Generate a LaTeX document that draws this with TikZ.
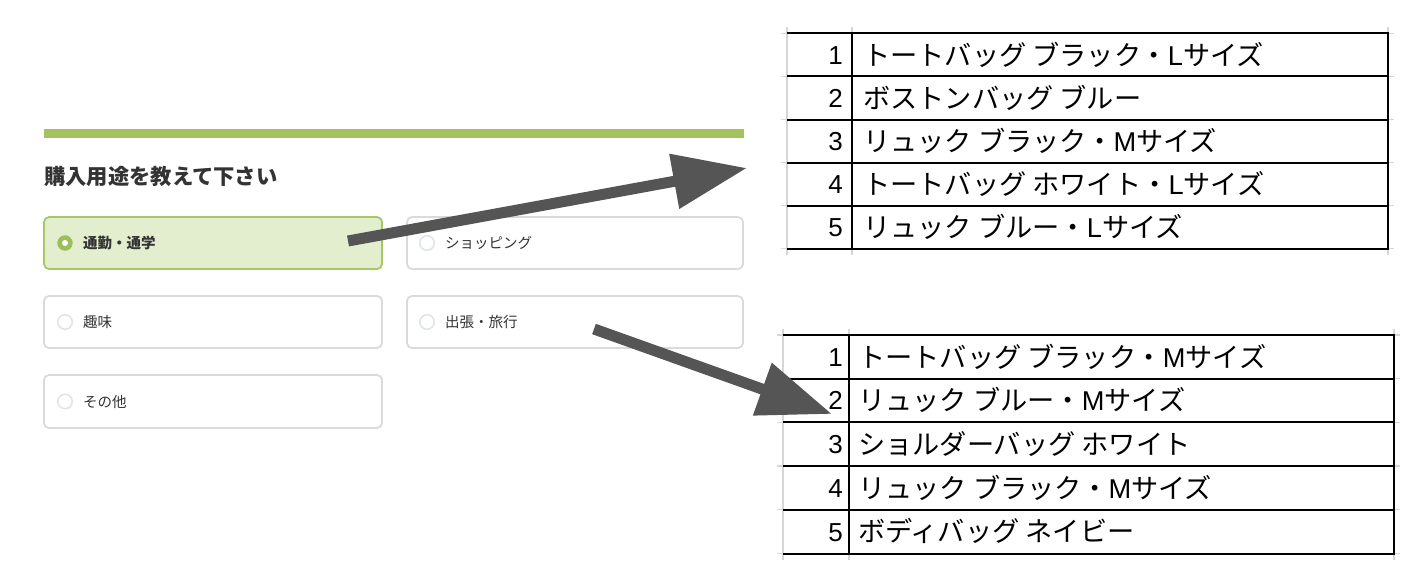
\documentclass[tikz,border=0pt]{standalone}
\usepackage{fontspec}
\setmainfont{Noto Sans CJK JP}
\newfontfamily\lib{Liberation Sans}
\usetikzlibrary{arrows.meta}
\definecolor{bar}{HTML}{A3C35E}
\definecolor{selfill}{HTML}{E3EECF}
\definecolor{selborder}{HTML}{A8C764}
\definecolor{radiogreen}{HTML}{9DBE5A}
\definecolor{boxgray}{HTML}{DADADA}
\definecolor{radiogray}{HTML}{DFE4EA}
\definecolor{txt}{HTML}{333333}
\definecolor{arrowgray}{HTML}{555555}
\definecolor{grid}{HTML}{D6D6D6}
\tikzset{
  optbox/.style={draw=boxgray, line width=1.8pt, rounded corners=5pt, fill=white,
    minimum width=338pt, minimum height=52pt, inner sep=0pt},
  selbox/.style={optbox, draw=selborder, fill=selfill},
  radio/.style={circle, draw=radiogray, line width=1.5pt, minimum size=14.5pt, inner sep=0pt},
  radiosel/.style={circle, fill=radiogreen, minimum size=15.5pt, inner sep=0pt},
  radiodot/.style={circle, fill=white, minimum size=6pt, inner sep=0pt},
  optlabel/.style={anchor=west, inner sep=0pt, text=txt, font=\fontsize{14.5}{17}\selectfont,
    text height=12.2pt, text depth=1.2pt},
  numcell/.style={anchor=east, inner sep=0pt, text=black, font=\lib\fontsize{26}{30}\selectfont,
    text height=19.8pt, text depth=1pt},
  itemcell/.style={anchor=west, inner sep=0pt, text=black, font=\fontsize{27.2}{31}\selectfont,
    text height=22.8pt, text depth=2.2pt},
  gridline/.style={draw=grid, line width=1.3pt},
  tabline/.style={draw=black, line width=2pt},
  bigarrow/.style={draw=arrowgray, line width=11pt,
    -{Triangle[length=74pt, width=53pt]}, color=arrowgray}
}
\begin{document}
\begin{tikzpicture}[x=1pt,y=-1pt]
\useasboundingbox (0,0) rectangle (1418,584);
\fill[white] (0,0) rectangle (1418,584);

% ---------- form ----------
\fill[bar] (44,129) rectangle (744,137.5);
\node[anchor=west, inner sep=0pt, text=txt, font=\bfseries\fontsize{21.3}{25}\selectfont,
  text height=17.9pt, text depth=1.7pt] (title) at (44,176) {購入用途を教えて下さい};

\node[selbox] (o1) at (213,243) {};
\node[optbox, minimum width=336pt] (o2) at (575,243) {};
\node[optbox] (o3) at (213,322) {};
\node[optbox, minimum width=336pt] (o4) at (575,322) {};
\node[optbox, minimum height=53pt] (o5) at (213,401.5) {};

\node[radiosel] (r1) at (65,243) {};
\node[radiodot] (r1d) at (65,243) {};
\node[radio] (r2) at (427,243) {};
\node[radio] (r3) at (65,322) {};
\node[radio] (r4) at (427,322) {};
\node[radio] (r5) at (65,401.5) {};

\node[optlabel, font=\bfseries\fontsize{14.5}{17}\selectfont] (l1) at (83,243) {通勤・通学};
\node[optlabel] (l2) at (445,243) {ショッピング};
\node[optlabel] (l3) at (83,322) {趣味};
\node[optlabel] (l4) at (445,322) {出張・旅行};
\node[optlabel] (l5) at (83,401.5) {その他};

% ---------- top table ----------
\foreach \y in {33.3,76.4,119.5,162.6,205.7,248.8}
  \draw[gridline] (781,\y) -- (1394,\y);
\foreach \x in {787,852,1388}
  \draw[gridline] (\x,27) -- (\x,255);
\foreach \y in {33.3,76.4,119.5,162.6,205.7,248.8}
  \draw[tabline] (787,\y) -- (1388,\y);
\draw[tabline] (852,33.3) -- (852,248.8);
\draw[tabline] (1388,32.3) -- (1388,249.8);

\node[numcell] (a1n) at (843,54.9) {1};
\node[numcell] (a2n) at (843,98.0) {2};
\node[numcell] (a3n) at (843,141.1) {3};
\node[numcell] (a4n) at (843,184.2) {4};
\node[numcell] (a5n) at (843,227.3) {5};
\node[itemcell] (a1t) at (863,54.9) {トートバッグ ブラック・{\lib L}サイズ};
\node[itemcell] (a2t) at (863,98.0) {ボストンバッグ ブルー};
\node[itemcell] (a3t) at (863,141.1) {リュック ブラック・{\lib M}サイズ};
\node[itemcell] (a4t) at (863,184.2) {トートバッグ ホワイト・{\lib L}サイズ};
\node[itemcell] (a5t) at (863,227.3) {リュック ブルー・{\lib L}サイズ};

% ---------- bottom table ----------
\foreach \y in {335,378.7,422.4,466.1,509.8,553.5}
  \draw[gridline] (777,\y) -- (1400,\y);
\foreach \x in {783,849,1394}
  \draw[gridline] (\x,329) -- (\x,560);
\foreach \y in {335,378.7,422.4,466.1,509.8,553.5}
  \draw[tabline] (783,\y) -- (1394,\y);
\draw[tabline] (849,335) -- (849,553.5);
\draw[tabline] (1394,334) -- (1394,554.5);

\node[numcell] (b1n) at (843,356.8) {1};
\node[numcell] (b2n) at (843,400.5) {2};
\node[numcell] (b3n) at (843,444.2) {3};
\node[numcell] (b4n) at (843,487.9) {4};
\node[numcell] (b5n) at (843,531.6) {5};
\node[itemcell] (b1t) at (858,356.8) {トートバッグ ブラック・{\lib M}サイズ};
\node[itemcell] (b2t) at (858,400.5) {リュック ブルー・{\lib M}サイズ};
\node[itemcell] (b3t) at (858,444.2) {ショルダーバッグ ホワイト};
\node[itemcell] (b4t) at (858,487.9) {リュック ブラック・{\lib M}サイズ};
\node[itemcell] (b5t) at (858,531.6) {ボディバッグ ネイビー};

% ---------- arrows ----------
\coordinate (s1) at (348,241);
\coordinate (e1) at (747,168);
\coordinate (s2) at (594,329);
\coordinate (e2) at (832,414);
\draw[bigarrow] (s1) -- (e1);
\draw[bigarrow] (s2) -- (e2);
\end{tikzpicture}
\end{document}
